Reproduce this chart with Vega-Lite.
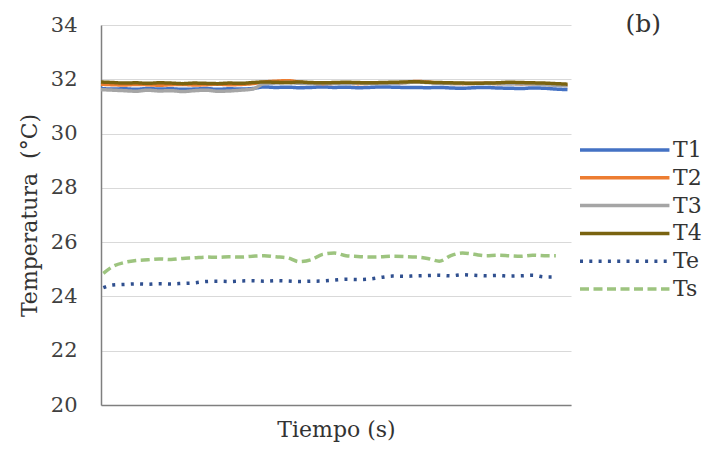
{
  "$schema": "https://vega.github.io/schema/vega-lite/v6.json",
  "width": 470,
  "height": 380,
  "autosize": "none",
  "padding": {"left": 101, "top": 25, "right": 135, "bottom": 45},
  "background": "white",
  "title": {"text": "(b)", "anchor": "end", "frame": "group", "dx": 90, "dy": 27, "font": "DejaVu Serif", "fontSize": 25, "fontWeight": "normal", "color": "#333333"},
  "config": {"view": {"stroke": null}},
  "data": {"values": [
    {"t":0,"s":"T1","v":31.66},{"t":1,"s":"T1","v":31.64},{"t":2,"s":"T1","v":31.65},{"t":3,"s":"T1","v":31.63},{"t":4,"s":"T1","v":31.66},{"t":5,"s":"T1","v":31.64},{"t":6,"s":"T1","v":31.65},{"t":7,"s":"T1","v":31.63},{"t":8,"s":"T1","v":31.64},{"t":9,"s":"T1","v":31.66},{"t":10,"s":"T1","v":31.63},{"t":11,"s":"T1","v":31.65},{"t":12,"s":"T1","v":31.64},{"t":13,"s":"T1","v":31.66},{"t":14,"s":"T1","v":31.72},{"t":15,"s":"T1","v":31.7},{"t":16,"s":"T1","v":31.71},{"t":17,"s":"T1","v":31.69},{"t":18,"s":"T1","v":31.7},{"t":19,"s":"T1","v":31.72},{"t":20,"s":"T1","v":31.7},{"t":21,"s":"T1","v":31.71},{"t":22,"s":"T1","v":31.69},{"t":23,"s":"T1","v":31.7},{"t":24,"s":"T1","v":31.72},{"t":25,"s":"T1","v":31.71},{"t":26,"s":"T1","v":31.7},{"t":27,"s":"T1","v":31.7},{"t":28,"s":"T1","v":31.69},{"t":29,"s":"T1","v":31.7},{"t":30,"s":"T1","v":31.68},{"t":31,"s":"T1","v":31.67},{"t":32,"s":"T1","v":31.69},{"t":33,"s":"T1","v":31.7},{"t":34,"s":"T1","v":31.68},{"t":35,"s":"T1","v":31.67},{"t":36,"s":"T1","v":31.66},{"t":37,"s":"T1","v":31.68},{"t":38,"s":"T1","v":31.67},{"t":39,"s":"T1","v":31.64},{"t":40,"s":"T1","v":31.62},
    {"t":0,"s":"T2","v":31.82},{"t":1,"s":"T2","v":31.8},{"t":2,"s":"T2","v":31.79},{"t":3,"s":"T2","v":31.81},{"t":4,"s":"T2","v":31.8},{"t":5,"s":"T2","v":31.78},{"t":6,"s":"T2","v":31.8},{"t":7,"s":"T2","v":31.81},{"t":8,"s":"T2","v":31.79},{"t":9,"s":"T2","v":31.8},{"t":10,"s":"T2","v":31.82},{"t":11,"s":"T2","v":31.8},{"t":12,"s":"T2","v":31.81},{"t":13,"s":"T2","v":31.84},{"t":14,"s":"T2","v":31.9},{"t":15,"s":"T2","v":31.93},{"t":16,"s":"T2","v":31.95},{"t":17,"s":"T2","v":31.9},{"t":18,"s":"T2","v":31.86},{"t":19,"s":"T2","v":31.84},{"t":20,"s":"T2","v":31.85},{"t":21,"s":"T2","v":31.86},{"t":22,"s":"T2","v":31.84},{"t":23,"s":"T2","v":31.85},{"t":24,"s":"T2","v":31.86},{"t":25,"s":"T2","v":31.85},{"t":26,"s":"T2","v":31.88},{"t":27,"s":"T2","v":31.92},{"t":28,"s":"T2","v":31.9},{"t":29,"s":"T2","v":31.86},{"t":30,"s":"T2","v":31.85},{"t":31,"s":"T2","v":31.84},{"t":32,"s":"T2","v":31.85},{"t":33,"s":"T2","v":31.86},{"t":34,"s":"T2","v":31.84},{"t":35,"s":"T2","v":31.85},{"t":36,"s":"T2","v":31.83},{"t":37,"s":"T2","v":31.84},{"t":38,"s":"T2","v":31.82},{"t":39,"s":"T2","v":31.8},{"t":40,"s":"T2","v":31.78},
    {"t":0,"s":"T3","v":31.62},{"t":1,"s":"T3","v":31.6},{"t":2,"s":"T3","v":31.58},{"t":3,"s":"T3","v":31.56},{"t":4,"s":"T3","v":31.6},{"t":5,"s":"T3","v":31.57},{"t":6,"s":"T3","v":31.58},{"t":7,"s":"T3","v":31.55},{"t":8,"s":"T3","v":31.58},{"t":9,"s":"T3","v":31.6},{"t":10,"s":"T3","v":31.56},{"t":11,"s":"T3","v":31.57},{"t":12,"s":"T3","v":31.6},{"t":13,"s":"T3","v":31.64},{"t":14,"s":"T3","v":31.84},{"t":15,"s":"T3","v":31.86},{"t":16,"s":"T3","v":31.88},{"t":17,"s":"T3","v":31.85},{"t":18,"s":"T3","v":31.84},{"t":19,"s":"T3","v":31.86},{"t":20,"s":"T3","v":31.85},{"t":21,"s":"T3","v":31.84},{"t":22,"s":"T3","v":31.86},{"t":23,"s":"T3","v":31.85},{"t":24,"s":"T3","v":31.84},{"t":25,"s":"T3","v":31.85},{"t":26,"s":"T3","v":31.87},{"t":27,"s":"T3","v":31.9},{"t":28,"s":"T3","v":31.88},{"t":29,"s":"T3","v":31.85},{"t":30,"s":"T3","v":31.84},{"t":31,"s":"T3","v":31.85},{"t":32,"s":"T3","v":31.84},{"t":33,"s":"T3","v":31.85},{"t":34,"s":"T3","v":31.84},{"t":35,"s":"T3","v":31.83},{"t":36,"s":"T3","v":31.84},{"t":37,"s":"T3","v":31.83},{"t":38,"s":"T3","v":31.8},{"t":39,"s":"T3","v":31.78},{"t":40,"s":"T3","v":31.76},
    {"t":0,"s":"T4","v":31.9},{"t":1,"s":"T4","v":31.88},{"t":2,"s":"T4","v":31.86},{"t":3,"s":"T4","v":31.87},{"t":4,"s":"T4","v":31.85},{"t":5,"s":"T4","v":31.87},{"t":6,"s":"T4","v":31.86},{"t":7,"s":"T4","v":31.84},{"t":8,"s":"T4","v":31.86},{"t":9,"s":"T4","v":31.85},{"t":10,"s":"T4","v":31.84},{"t":11,"s":"T4","v":31.86},{"t":12,"s":"T4","v":31.85},{"t":13,"s":"T4","v":31.88},{"t":14,"s":"T4","v":31.9},{"t":15,"s":"T4","v":31.89},{"t":16,"s":"T4","v":31.88},{"t":17,"s":"T4","v":31.9},{"t":18,"s":"T4","v":31.88},{"t":19,"s":"T4","v":31.87},{"t":20,"s":"T4","v":31.88},{"t":21,"s":"T4","v":31.89},{"t":22,"s":"T4","v":31.88},{"t":23,"s":"T4","v":31.87},{"t":24,"s":"T4","v":31.88},{"t":25,"s":"T4","v":31.89},{"t":26,"s":"T4","v":31.9},{"t":27,"s":"T4","v":31.91},{"t":28,"s":"T4","v":31.89},{"t":29,"s":"T4","v":31.88},{"t":30,"s":"T4","v":31.87},{"t":31,"s":"T4","v":31.86},{"t":32,"s":"T4","v":31.85},{"t":33,"s":"T4","v":31.86},{"t":34,"s":"T4","v":31.87},{"t":35,"s":"T4","v":31.89},{"t":36,"s":"T4","v":31.88},{"t":37,"s":"T4","v":31.87},{"t":38,"s":"T4","v":31.86},{"t":39,"s":"T4","v":31.84},{"t":40,"s":"T4","v":31.82},
    {"t":0.2,"s":"Te","v":24.32},{"t":1,"s":"Te","v":24.42},{"t":2,"s":"Te","v":24.44},{"t":3,"s":"Te","v":24.46},{"t":4,"s":"Te","v":24.45},{"t":5,"s":"Te","v":24.47},{"t":6,"s":"Te","v":24.46},{"t":7,"s":"Te","v":24.48},{"t":8,"s":"Te","v":24.5},{"t":9,"s":"Te","v":24.55},{"t":10,"s":"Te","v":24.56},{"t":11,"s":"Te","v":24.55},{"t":12,"s":"Te","v":24.57},{"t":13,"s":"Te","v":24.58},{"t":14,"s":"Te","v":24.56},{"t":15,"s":"Te","v":24.58},{"t":16,"s":"Te","v":24.57},{"t":17,"s":"Te","v":24.55},{"t":18,"s":"Te","v":24.56},{"t":19,"s":"Te","v":24.57},{"t":20,"s":"Te","v":24.6},{"t":21,"s":"Te","v":24.63},{"t":22,"s":"Te","v":24.62},{"t":23,"s":"Te","v":24.64},{"t":24,"s":"Te","v":24.7},{"t":25,"s":"Te","v":24.75},{"t":26,"s":"Te","v":24.74},{"t":27,"s":"Te","v":24.76},{"t":28,"s":"Te","v":24.77},{"t":29,"s":"Te","v":24.78},{"t":30,"s":"Te","v":24.76},{"t":31,"s":"Te","v":24.8},{"t":32,"s":"Te","v":24.78},{"t":33,"s":"Te","v":24.76},{"t":34,"s":"Te","v":24.77},{"t":35,"s":"Te","v":24.75},{"t":36,"s":"Te","v":24.76},{"t":37,"s":"Te","v":24.78},{"t":38,"s":"Te","v":24.72},{"t":39,"s":"Te","v":24.72},
    {"t":0.2,"s":"Ts","v":24.85},{"t":1,"s":"Ts","v":25.1},{"t":2,"s":"Ts","v":25.25},{"t":3,"s":"Ts","v":25.32},{"t":4,"s":"Ts","v":25.35},{"t":5,"s":"Ts","v":25.38},{"t":6,"s":"Ts","v":25.36},{"t":7,"s":"Ts","v":25.4},{"t":8,"s":"Ts","v":25.42},{"t":9,"s":"Ts","v":25.45},{"t":10,"s":"Ts","v":25.44},{"t":11,"s":"Ts","v":25.46},{"t":12,"s":"Ts","v":25.45},{"t":13,"s":"Ts","v":25.48},{"t":14,"s":"Ts","v":25.5},{"t":15,"s":"Ts","v":25.46},{"t":16,"s":"Ts","v":25.42},{"t":17,"s":"Ts","v":25.28},{"t":18,"s":"Ts","v":25.35},{"t":19,"s":"Ts","v":25.55},{"t":20,"s":"Ts","v":25.6},{"t":21,"s":"Ts","v":25.5},{"t":22,"s":"Ts","v":25.47},{"t":23,"s":"Ts","v":25.45},{"t":24,"s":"Ts","v":25.46},{"t":25,"s":"Ts","v":25.48},{"t":26,"s":"Ts","v":25.47},{"t":27,"s":"Ts","v":25.45},{"t":28,"s":"Ts","v":25.4},{"t":29,"s":"Ts","v":25.3},{"t":30,"s":"Ts","v":25.5},{"t":31,"s":"Ts","v":25.6},{"t":32,"s":"Ts","v":25.55},{"t":33,"s":"Ts","v":25.5},{"t":34,"s":"Ts","v":25.52},{"t":35,"s":"Ts","v":25.5},{"t":36,"s":"Ts","v":25.48},{"t":37,"s":"Ts","v":25.52},{"t":38,"s":"Ts","v":25.5},{"t":39,"s":"Ts","v":25.5}
  ]},
  "mark": {"type": "line", "interpolate": "monotone"},
  "encoding": {
    "x": {"field": "t", "type": "quantitative", "scale": {"domain": [0, 40.3], "nice": false, "zero": false},
      "axis": {"title": "Tiempo (s)", "labels": false, "ticks": false, "grid": false, "domain": true, "domainColor": "#7f7f7f", "domainWidth": 1.5, "titleFont": "DejaVu Serif", "titleFontSize": 22, "titleFontWeight": "normal", "titleColor": "#333333", "titlePadding": 14}},
    "y": {"field": "v", "type": "quantitative", "scale": {"domain": [20, 34], "nice": false, "zero": false},
      "axis": {"title": "Temperatura\u00a0 (°C)", "values": [20, 22, 24, 26, 28, 30, 32, 34], "ticks": false, "grid": true, "gridColor": "#d9d9d9", "gridWidth": 1, "domain": true, "domainColor": "#7f7f7f", "domainWidth": 1.5, "labelFont": "DejaVu Serif", "labelFontSize": 21, "labelColor": "#404040", "labelPadding": 24, "titleFont": "DejaVu Serif", "titleFontSize": 22, "titleFontWeight": "normal", "titleColor": "#333333", "titlePadding": 9}},
    "color": {"field": "s", "type": "nominal", "scale": {"domain": ["T1", "T2", "T3", "T4", "Te", "Ts"], "range": ["#4472C4", "#ED7D31", "#A5A5A5", "#7A6310", "#2F4F8F", "#9DC47F"]},
      "legend": {"title": null, "orient": "none", "legendX": 466, "legendY": 112, "symbolType": "M0,0H8", "symbolSize": 500, "symbolStrokeWidth": 3.5, "labelFont": "DejaVu Serif", "labelFontSize": 22, "labelColor": "#333333", "labelOffset": 80, "rowPadding": 3.8}},
    "strokeDash": {"field": "s", "type": "nominal", "scale": {"domain": ["T1", "T2", "T3", "T4", "Te", "Ts"], "range": [[1, 0], [1, 0], [1, 0], [1, 0], [3, 6.3], [9, 4.5]]}},
    "strokeWidth": {"value": 3.5}
  }
}
